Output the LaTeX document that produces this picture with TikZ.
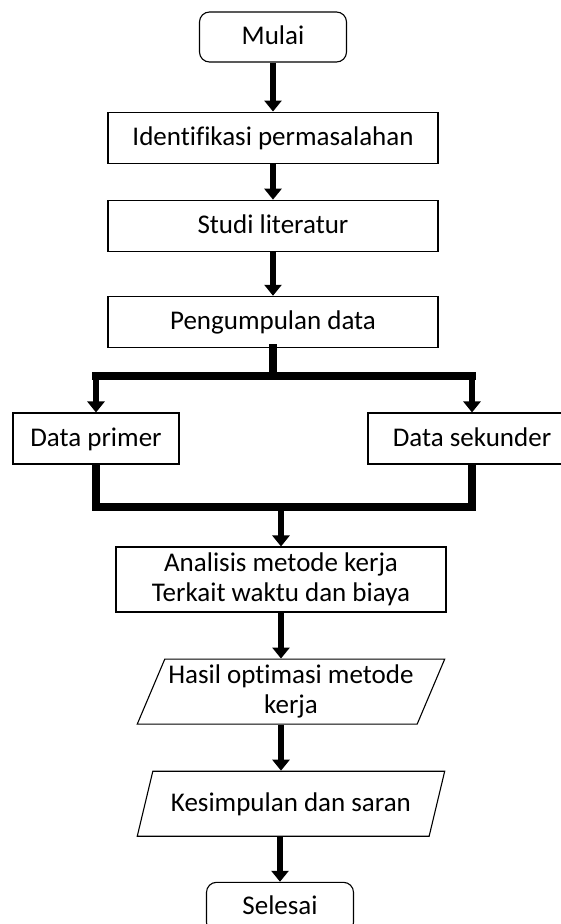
\documentclass[tikz,border=0pt]{standalone}
\usepackage{fontspec}
\setmainfont{Carlito}[Ligatures=NoCommon]
\usetikzlibrary{arrows.meta,positioning,shapes.geometric}

\begin{document}
\begin{tikzpicture}[
  x=1pt, y=1pt,
  font=\fontsize{27}{30}\selectfont,
  startstop/.style={draw, line width=1.1pt, rounded corners=10pt, align=center,
    minimum width=147pt, minimum height=50pt, inner sep=2pt,
    text height=20pt, text depth=5pt},
  process/.style={draw, line width=1.1pt, align=center,
    minimum width=330pt, minimum height=51pt, inner sep=2pt},
  oneline/.style={text height=20pt, text depth=5pt},
  io/.style={draw, line width=1.1pt, align=center, trapezium,
    trapezium left angle=65, trapezium right angle=115,
    trapezium stretches=true, minimum width=308pt, minimum height=65pt,
    inner xsep=0pt, inner ysep=2pt},
  arrow/.style={-{Triangle[length=11pt,width=17pt]}, line width=5.5pt},
  bar/.style={line width=8pt, line cap=rect}
]
\useasboundingbox (0,0) rectangle (561,-924);
\node[startstop] (mulai) at (273,-37) {Mulai};
\node[process, oneline, below=49pt of mulai] (identifikasi) {Identifikasi permasalahan};
\node[process, oneline, below=36pt of identifikasi] (studi) {Studi literatur};
\node[process, oneline, below=44pt of studi] (pengumpulan) {Pengumpulan data};
\node[process, oneline, minimum width=166pt] (primer) at (96,-438.5) {Data primer};
\node[process, oneline, minimum width=208pt] (sekunder) at (472,-438.5) {Data sekunder};
\node[process, minimum height=65pt] (analisis) at (281,-579.5)
  {Analisis metode kerja\\Terkait waktu dan biaya};
\node[io, below=46pt of analisis, xshift=10pt] (hasil)
  {Hasil optimasi metode\\kerja};
\node[io, oneline, below=46pt of hasil] (kesimpulan) {Kesimpulan dan saran};
\node[startstop, below=45pt of kesimpulan, xshift=-11pt] (selesai) {Selesai};
\coordinate (split) at ([yshift=-28pt]pengumpulan.south);
\coordinate (merge) at ([yshift=-42pt]primer.south);
\draw[arrow] (mulai) -- (identifikasi);
\draw[arrow] (identifikasi) -- (studi);
\draw[arrow] (studi) -- (pengumpulan);
\draw[bar] (pengumpulan.south) -- (split);
\draw[bar] (primer.north |- split) -- (sekunder.north |- split);
\draw[arrow] (primer.north |- split) -- (primer.north);
\draw[arrow] (sekunder.north |- split) -- (sekunder.north);
\draw[bar, line cap=butt, line join=miter] (primer.south) -- (primer.south |- merge)
  -- (sekunder.south |- merge) -- (sekunder.south);
\draw[arrow] (analisis.north |- merge) -- (analisis.north);
\draw[arrow] (analisis.south) -- (analisis.south |- hasil.north);
\draw[arrow] (analisis.south |- hasil.south) -- (analisis.south |- kesimpulan.north);
\draw[arrow] (selesai.north |- kesimpulan.south) -- (selesai.north);
\end{tikzpicture}
\end{document}
